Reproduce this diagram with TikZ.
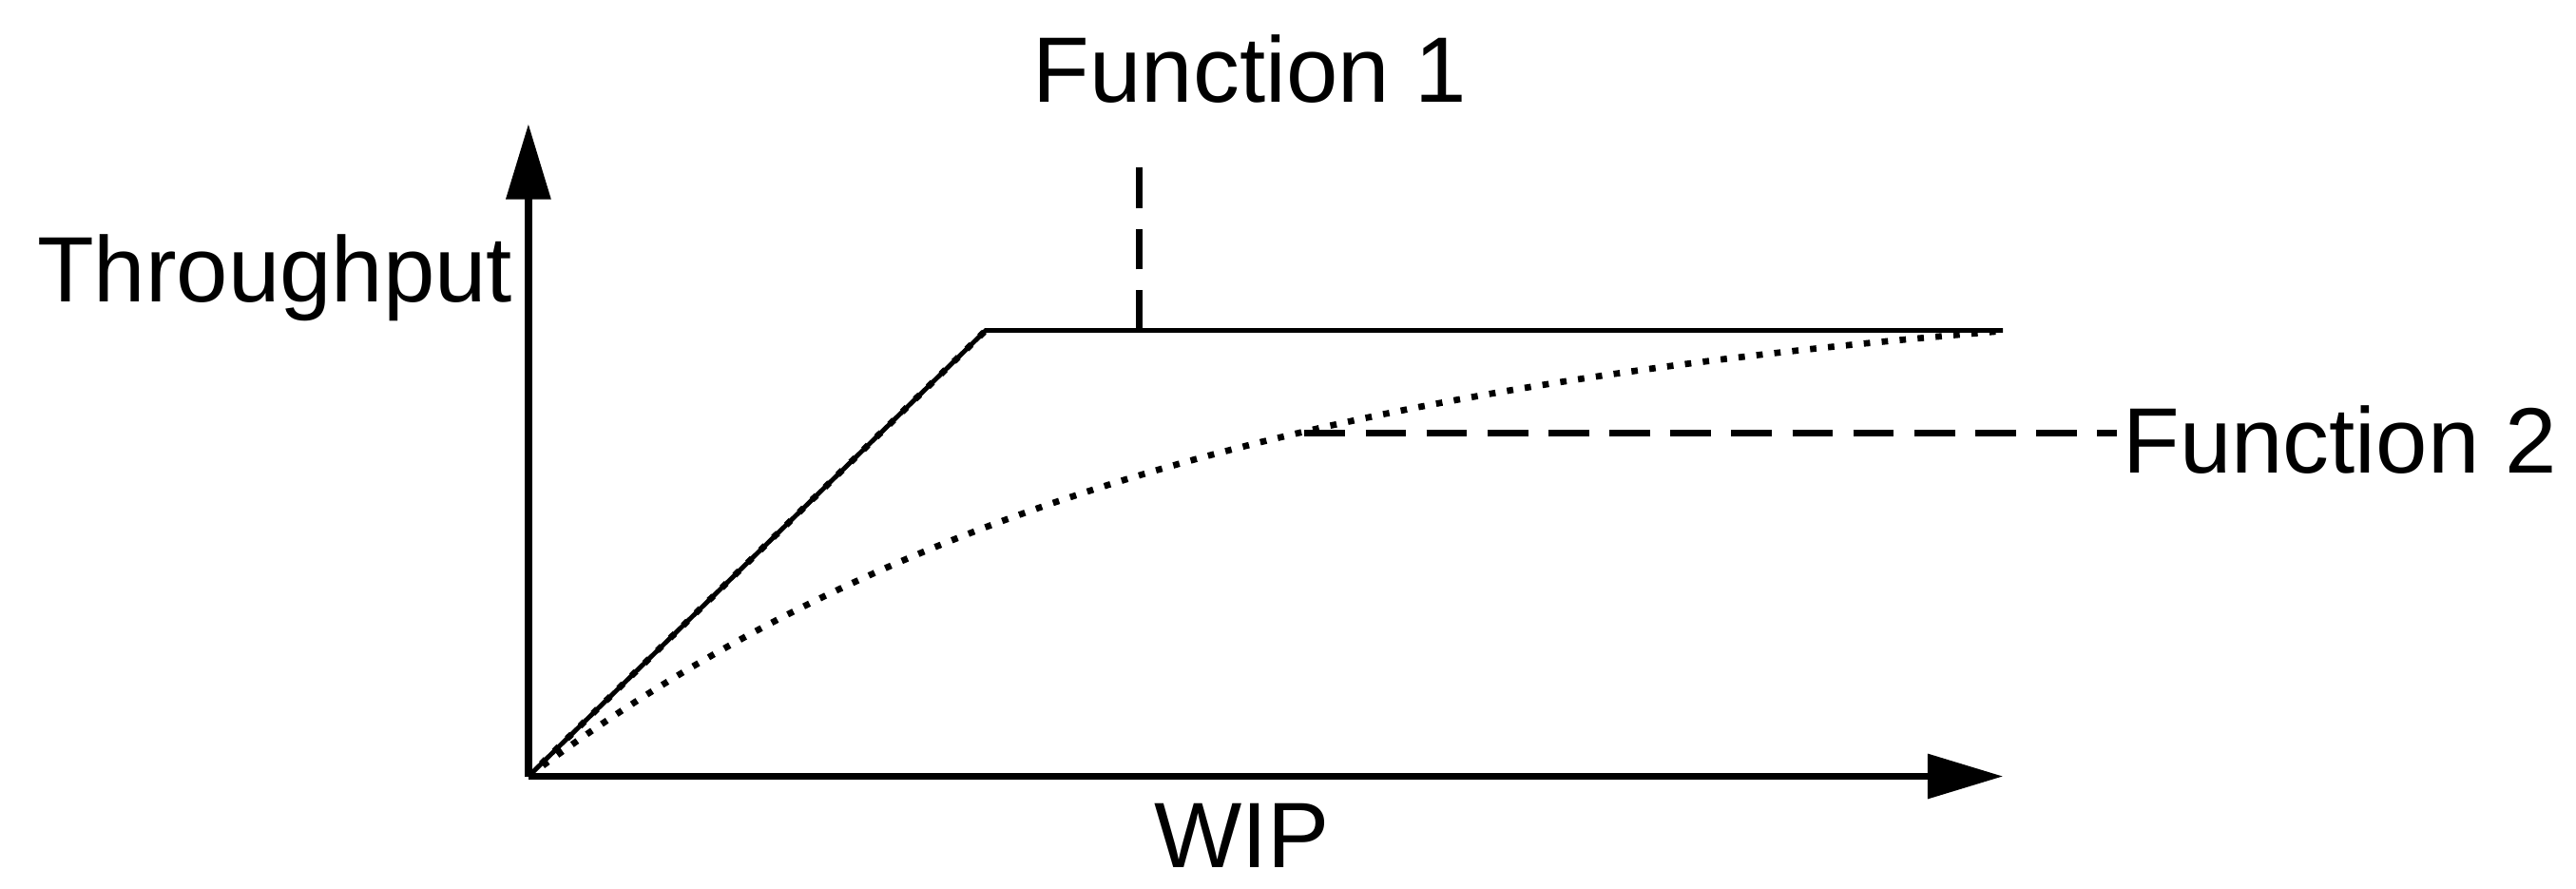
\documentclass[tikz,border=0pt]{standalone}
\usepackage{fontspec}
\setmainfont{Liberation Sans}
\usetikzlibrary{arrows.meta}
\begin{document}
\begin{tikzpicture}[x=0.01cm,y=-0.01cm,
  lbl/.style={inner sep=0pt,font=\fontsize{16}{19}\selectfont},
  axis/.style={line width=1.2pt,-{Triangle[length=13pt,width=7.5pt]}},
  dsh/.style={line width=1.2pt,dash pattern=on 7pt off 3.5pt}]
\useasboundingbox (0,0) rectangle (1560,538);
\coordinate (o) at (320,470);
\coordinate (yt) at (320,75);
\coordinate (xt) at (1213,470);
\coordinate (k) at (597,200);
\coordinate (e) at (1213,200);
\coordinate (f1) at (690,200);
\coordinate (f1t) at (690,92);
\coordinate (f2) at (790,262);
\coordinate (f2e) at (1282,262);
\draw[axis] (o) -- (yt);
\draw[axis] (o) -- (xt);
\draw[line width=0.8pt] (o) -- (k) -- (e);
\draw[line width=1.1pt,dotted] (o) -- (k);
\draw[line width=1.1pt,dotted] plot[domain=0:893,samples=80,smooth] ({320+\x},{470-302*(1-exp(-\x/400))});
\draw[dsh] (f1) -- (f1t);
\draw[dsh] (f2) -- (f2e);
\node[lbl] (n1) at (757,42) {Function 1};
\node[lbl,anchor=west] (n2) at (1285,266) {Function 2};
\node[lbl,anchor=east] (ty) at (311,168) {Throughput};
\node[lbl] (wx) at (752,506) {WIP};
\end{tikzpicture}
\end{document}
